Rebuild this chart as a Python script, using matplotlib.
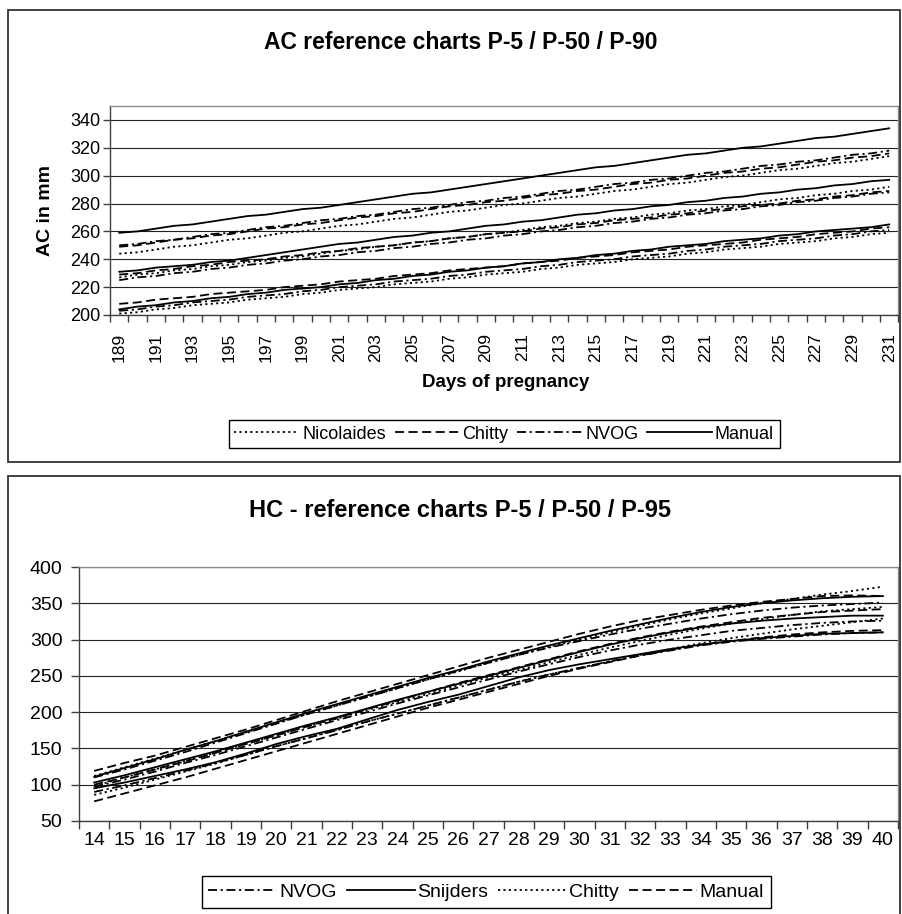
import matplotlib
matplotlib.use("Agg")
import matplotlib.pyplot as plt
from matplotlib.lines import Line2D
from matplotlib.patches import Rectangle
import numpy as np

plt.rcParams['font.family'] = ['Liberation Sans', 'DejaVu Sans']

# ---- AC chart: abdominal circumference (mm) per day of pregnancy ----
days = list(range(189, 232))

ac_manual_p90 = [259, 260, 262, 264, 265, 267, 269, 271, 272, 274,
                 276, 277, 279, 281, 283, 285, 287, 288, 290, 292,
                 294, 296, 298, 300, 302, 304, 306, 307, 309, 311,
                 313, 315, 316, 318, 320, 321, 323, 325, 327, 328,
                 330, 332, 334]
ac_manual_p50 = [231, 232, 234, 235, 236, 238, 239, 241, 243, 245,
                 247, 249, 251, 252, 254, 256, 257, 259, 260, 262,
                 264, 265, 267, 268, 270, 272, 273, 275, 276, 278,
                 279, 281, 282, 284, 285, 287, 288, 290, 291, 293,
                 294, 296, 297]
ac_manual_p5 = [204, 206, 207, 209, 210, 212, 213, 215, 216, 218,
                219, 220, 222, 223, 225, 226, 228, 229, 231, 232,
                234, 235, 237, 238, 240, 241, 243, 244, 246, 247,
                249, 250, 251, 253, 254, 255, 257, 258, 260, 261,
                262, 263, 265]

ac_nicolaides_p90 = [244, 245, 247, 249, 250, 252, 254, 255, 257, 259,
                     260, 262, 264, 265, 267, 269, 270, 272, 274, 275,
                     277, 279, 280, 282, 284, 285, 287, 289, 290, 292,
                     294, 295, 297, 299, 300, 302, 304, 305, 307, 309,
                     310, 312, 314]
ac_nicolaides_p50 = [227, 229, 230, 232, 233, 235, 236, 238, 239, 241,
                     242, 244, 246, 247, 249, 250, 252, 253, 255, 256,
                     258, 259, 261, 263, 264, 266, 267, 269, 270, 272,
                     273, 275, 276, 278, 279, 281, 283, 284, 286, 287,
                     289, 290, 292]
ac_nicolaides_p5 = [201, 202, 204, 205, 207, 208, 209, 211, 212, 213,
                    215, 216, 218, 219, 220, 222, 223, 224, 226, 227,
                    229, 230, 231, 233, 234, 236, 237, 238, 240, 241,
                    242, 244, 245, 247, 248, 249, 251, 252, 253, 255,
                    256, 258, 259]

ac_chitty_p90 = [249, 250, 252, 254, 255, 257, 258, 260, 262, 263,
                 265, 266, 268, 270, 271, 273, 274, 276, 278, 279,
                 281, 282, 284, 286, 287, 289, 290, 292, 294, 295,
                 297, 298, 300, 302, 303, 305, 306, 308, 310, 311,
                 313, 314, 316]
ac_chitty_p50 = [229, 230, 232, 233, 235, 236, 238, 239, 240, 242,
                 243, 245, 246, 248, 249, 250, 252, 253, 255, 256,
                 258, 259, 260, 262, 263, 265, 266, 268, 269, 270,
                 272, 273, 275, 276, 278, 279, 280, 282, 283, 285,
                 286, 288, 289]
ac_chitty_p5 = [208, 209, 211, 212, 213, 215, 216, 217, 218, 220,
                221, 222, 224, 225, 226, 228, 229, 230, 232, 233,
                234, 235, 237, 238, 239, 241, 242, 243, 245, 246,
                247, 249, 250, 251, 252, 254, 255, 256, 258, 259,
                260, 262, 263]

ac_nvog_p90 = [250, 251, 253, 254, 256, 258, 259, 261, 263, 264,
               266, 268, 269, 271, 272, 274, 276, 277, 279, 281,
               282, 284, 285, 287, 289, 290, 292, 294, 295, 297,
               298, 300, 302, 303, 305, 307, 308, 310, 311, 313,
               315, 316, 318]
ac_nvog_p50 = [225, 227, 228, 230, 231, 233, 234, 236, 237, 239,
               240, 242, 243, 245, 246, 248, 249, 251, 252, 254,
               255, 257, 258, 260, 261, 263, 264, 266, 267, 269,
               270, 272, 273, 275, 276, 278, 279, 281, 282, 284,
               285, 287, 288]
ac_nvog_p5 = [203, 204, 206, 207, 209, 210, 211, 213, 214, 215,
              217, 218, 220, 221, 222, 224, 225, 226, 228, 229,
              231, 232, 233, 235, 236, 238, 239, 240, 242, 243,
              244, 246, 247, 249, 250, 251, 253, 254, 255, 257,
              258, 260, 261]

# ---- HC chart: head circumference (mm) per week ----
weeks = list(range(14, 41))

hc_nvog_p95 = [110, 121, 133, 145, 158, 171, 184, 197, 209, 221, 233, 245, 257, 268,
               279, 289, 298, 307, 315, 322, 329, 335, 340, 344, 347, 349, 351]
hc_nvog_p50 = [97, 107, 118, 130, 141, 153, 165, 177, 189, 200, 212, 223, 234, 245,
               256, 266, 276, 285, 293, 300, 306, 312, 316, 320, 323, 325, 326]
hc_nvog_p5 = [90, 99, 109, 119, 130, 141, 153, 164, 175, 187, 198, 209, 220, 231,
              242, 252, 261, 270, 278, 285, 292, 297, 301, 304, 307, 309, 310]

hc_snijders_p95 = [111, 123, 135, 148, 160, 173, 186, 199, 211, 223, 235, 247, 258, 270,
                   281, 292, 302, 312, 321, 330, 338, 345, 350, 354, 357, 359, 360]
hc_snijders_p50 = [103, 113, 124, 135, 146, 158, 170, 182, 193, 205, 217, 228, 239, 250,
                   261, 272, 283, 293, 302, 310, 317, 322, 326, 329, 331, 333, 333]
hc_snijders_p5 = [95, 103, 112, 121, 131, 143, 156, 167, 177, 190, 203, 214, 224, 236,
                  248, 258, 266, 273, 280, 287, 293, 298, 302, 305, 308, 309, 310]

hc_chitty_p95 = [112, 124, 136, 148, 160, 172, 185, 197, 209, 221, 233, 245, 256, 268,
                 279, 290, 300, 310, 319, 328, 336, 343, 350, 356, 362, 367, 373]
hc_chitty_p50 = [98, 110, 121, 133, 144, 156, 168, 180, 191, 203, 214, 225, 237, 248,
                 258, 269, 279, 289, 298, 307, 315, 322, 328, 334, 339, 342, 345]
hc_chitty_p5 = [86, 96, 107, 118, 129, 141, 153, 164, 176, 187, 198, 209, 220, 231,
                242, 252, 261, 270, 279, 287, 295, 302, 308, 314, 319, 324, 329]

hc_manual_p95 = [119, 130, 140, 152, 164, 176, 189, 202, 215, 227, 239, 251, 263, 275,
                 286, 297, 308, 318, 327, 334, 341, 347, 352, 356, 360, 361, 360]
hc_manual_p50 = [100, 110, 121, 132, 144, 156, 168, 180, 192, 204, 216, 228, 240, 251,
                 262, 273, 284, 294, 303, 311, 318, 324, 330, 334, 338, 340, 342]
hc_manual_p5 = [77, 88, 99, 110, 122, 134, 146, 158, 170, 182, 194, 206, 217, 228,
                239, 250, 260, 269, 278, 286, 293, 298, 303, 307, 310, 312, 313]

DOT = (0, (1.2, 1.8))
DASH = (0, (5, 2.5))
DASHDOT = (0, (5, 2, 1.2, 2))
SOLID = '-'
LW = 1.3

fig = plt.figure(figsize=(9.02, 9.14), dpi=100)

# outer chart frames
for y0, h in [(0.4945, 0.4945), (-0.05, 0.5295)]:
    fig.patches.append(Rectangle((0.009, y0), 0.989, h, transform=fig.transFigure,
                                 fill=False, edgecolor='#333333', linewidth=1.3))


def style_axes(ax):
    for side in ['left', 'bottom']:
        ax.spines[side].set_color('#404040')
    for side in ['top', 'right']:
        ax.spines[side].set_color('#8c8c8c')
    for s in ax.spines.values():
        s.set_linewidth(1.0)
    ax.yaxis.grid(True, color='#222222', linewidth=0.8)
    ax.set_axisbelow(True)


# ---------------- AC ----------------
ax1 = fig.add_axes([0.122, 0.6554, 0.874, 0.2286])
ac_series = [
    (ac_nicolaides_p90, ac_nicolaides_p50, ac_nicolaides_p5, DOT),
    (ac_chitty_p90, ac_chitty_p50, ac_chitty_p5, DASH),
    (ac_nvog_p90, ac_nvog_p50, ac_nvog_p5, DASHDOT),
    (ac_manual_p90, ac_manual_p50, ac_manual_p5, SOLID),
]
for p90, p50, p5, ls in ac_series:
    for vals in (p90, p50, p5):
        ax1.plot(days, vals, color='black', linestyle=ls, linewidth=LW)

style_axes(ax1)
ax1.set_xlim(days[0] - 0.5, days[-1] + 0.5)
ax1.set_ylim(200, 350)
ax1.set_yticks(np.arange(200, 341, 20))
ax1.set_xticks(days[::2])
ax1.set_xticklabels([str(d) for d in days[::2]], rotation=90)
ax1.set_xticks(np.arange(days[0] - 0.5, days[-1] + 1, 1), minor=True)
ax1.tick_params(axis='x', which='major', length=0, pad=13, labelsize=12.5)
ax1.tick_params(axis='x', which='minor', length=5, width=1, color='#404040', direction='out')
ax1.tick_params(axis='y', length=5, width=1, color='#404040', pad=2, labelsize=13)

fig.text(0.511, 0.953, 'AC reference charts P-5 / P-50 / P-90', ha='center', va='center',
         fontsize=16.5, fontweight='bold')
fig.text(0.05, 0.77, 'AC in mm', ha='center', va='center', rotation=90,
         fontsize=14, fontweight='bold')
fig.text(0.561, 0.581, 'Days of pregnancy', ha='center', va='center',
         fontsize=13.5, fontweight='bold')

ac_handles = [Line2D([], [], color='black', linestyle=ls, linewidth=LW)
              for ls in (DOT, DASH, DASHDOT, SOLID)]
fig.legend(ac_handles, ['Nicolaides', 'Chitty', 'NVOG', 'Manual'], loc='center',
           bbox_to_anchor=(0.559, 0.525), ncol=4, fontsize=13, fancybox=False,
           edgecolor='black', framealpha=1, handlelength=3.6, handletextpad=0.15,
           columnspacing=0.5, borderpad=0.3).get_frame().set_linewidth(1.0)

# ---------------- HC ----------------
ax2 = fig.add_axes([0.0876, 0.1018, 0.908, 0.2778])
hc_series = [
    (hc_nvog_p95, hc_nvog_p50, hc_nvog_p5, DASHDOT),
    (hc_snijders_p95, hc_snijders_p50, hc_snijders_p5, SOLID),
    (hc_chitty_p95, hc_chitty_p50, hc_chitty_p5, DOT),
    (hc_manual_p95, hc_manual_p50, hc_manual_p5, DASH),
]
for p95, p50, p5, ls in hc_series:
    for vals in (p95, p50, p5):
        ax2.plot(weeks, vals, color='black', linestyle=ls, linewidth=LW)

style_axes(ax2)
ax2.set_xlim(weeks[0] - 0.5, weeks[-1] + 0.5)
ax2.set_ylim(50, 400)
ax2.set_yticks(np.arange(50, 401, 50))
ax2.set_xticks(weeks)
ax2.set_xticklabels([str(w) for w in weeks])
ax2.set_xticks(np.arange(weeks[0] - 0.5, weeks[-1] + 1, 1), minor=True)
ax2.tick_params(axis='x', which='major', length=0, pad=8, labelsize=14)
ax2.tick_params(axis='x', which='minor', length=6, width=1, color='#404040', direction='out')
ax2.tick_params(axis='y', length=6, width=1, color='#404040', pad=6, labelsize=14)

fig.text(0.51, 0.442, 'HC - reference charts P-5 / P-50 / P-95', ha='center', va='center',
         fontsize=17, fontweight='bold')

hc_handles = [Line2D([], [], color='black', linestyle=ls, linewidth=LW)
              for ls in (DASHDOT, SOLID, DOT, DASH)]
fig.legend(hc_handles, ['NVOG', 'Snijders', 'Chitty', 'Manual'], loc='center',
           bbox_to_anchor=(0.539, 0.024), ncol=4, fontsize=14, fancybox=False,
           edgecolor='black', framealpha=1, handlelength=3.5, handletextpad=0.15,
           columnspacing=0.5, borderpad=0.35).get_frame().set_linewidth(1.0)

fig.savefig('out.png', dpi=100)
